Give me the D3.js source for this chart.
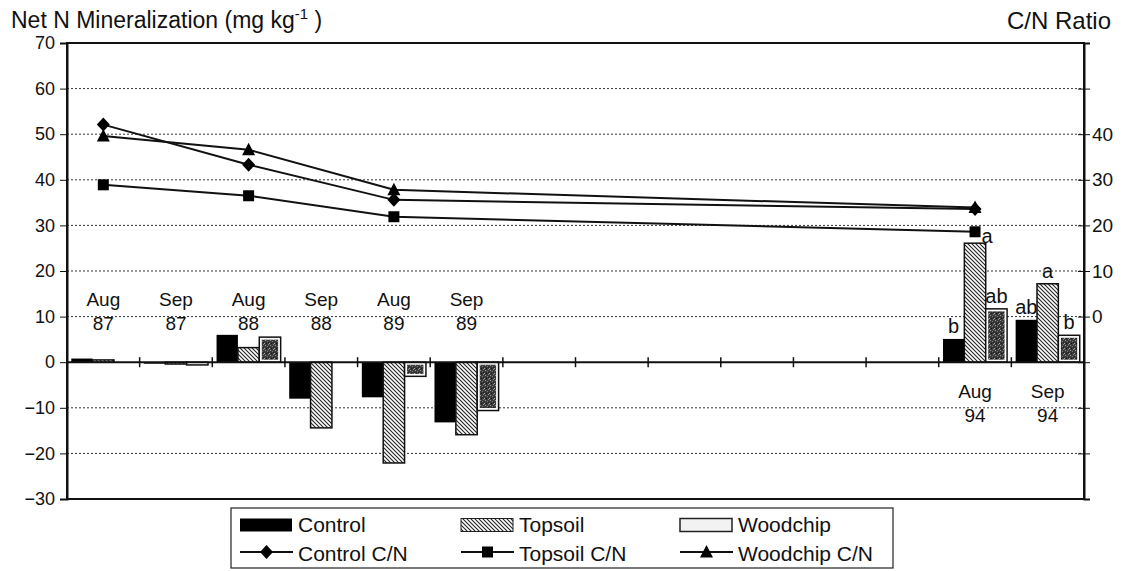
<!DOCTYPE html>
<html><head><meta charset="utf-8">
<script src="https://cdn.jsdelivr.net/npm/d3@7"></script>
<style>
body{margin:0;background:#fff;}
text{font-family:"Liberation Sans",Arial,sans-serif;fill:#111;}
</style></head>
<body><svg id="c" width="1124" height="571"></svg>
<script>
// ---- data ----
const categories = ["Aug 87","Sep 87","Aug 88","Sep 88","Aug 89","Sep 89","","","","","","","Aug 94","Sep 94"];
const seriesNames = ["Control","Topsoil","Woodchip"];
const controlN  = [0.8,-0.3, 6.0, -8.0, -7.7,-13.2, null,null,null,null,null,null, 5.1, 9.3];
const topsoilN  = [0.5,-0.4, 3.2,-14.4,-22.1,-15.9, null,null,null,null,null,null,26.1,17.2];
const woodchipN = [0.0,-0.6, 5.5,  0.0, -3.1,-10.6, null,null,null,null,null,null,11.7, 5.9];
const cnCategories = ["Aug 87","Aug 88","Aug 89","Aug 94"];
const controlCN  = [42.1,33.3,25.6,23.6];
const topsoilCN  = [28.9,26.5,21.9,18.6];
const woodchipCN = [39.6,36.6,27.8,23.9];
const sigCategories = ["Aug 94","Sep 94"];
const sigLetters = [["b","a","ab"],["ab","a","b"]];
const leftTicks = [-30,-20,-10,0,10,20,30,40,50,60,70];
const rightTicks = [-40,-30,-20,-10,0,10,20,30,40,50];
const rightLabeled = [0,10,20,30,40];

// ---- layout ----
const svg = d3.select("#c");
const L = 67, R = 1084, T = 43, B = 499;
const x = d3.scaleBand().domain(d3.range(categories.length)).range([L,R]).padding(0);
const xs = d3.scaleBand().domain(seriesNames).range([0,x.bandwidth()]).paddingOuter(0.2).paddingInner(0);
const y = d3.scaleLinear().domain([-30,70]).range([B,T]);
const y2 = d3.scaleLinear().domain([-40,60]).range([B,T]);

// patterns
const defs = svg.append("defs");
const hatch = defs.append("pattern").attr("id","hatch").attr("patternUnits","userSpaceOnUse")
  .attr("width",4).attr("height",4);
hatch.append("rect").attr("width",4).attr("height",4).attr("fill","#fff");
hatch.append("path").attr("d","M-1,-1 L5,5 M-1,3 L1,5 M3,-1 L5,1").attr("stroke","#222").attr("stroke-width",1.1);
const stip = defs.append("pattern").attr("id","stip").attr("patternUnits","userSpaceOnUse")
  .attr("width",5).attr("height",5);
stip.append("rect").attr("width",5).attr("height",5).attr("fill","#3a3a3a");
[[0,0,"#999"],[2,1,"#777"],[4,3,"#aaa"],[1,3,"#111"],[3,4,"#888"],[3,2,"#222"]].forEach(p=>
  stip.append("rect").attr("x",p[0]).attr("y",p[1]).attr("width",1).attr("height",1).attr("fill",p[2]));

// gridlines (dotted)
svg.append("g").selectAll("line").data([-20,-10,10,20,30,40,50,60]).join("line")
  .attr("x1",L).attr("x2",R).attr("y1",d=>y(d)).attr("y2",d=>y(d))
  .attr("stroke","#333").attr("stroke-width",1).attr("stroke-dasharray","2,2");

// frame
svg.append("rect").attr("x",L).attr("y",T).attr("width",R-L).attr("height",B-T)
  .attr("fill","none").attr("stroke","#111").attr("stroke-width",2);

// left axis
const ly = svg.append("g").attr("transform",`translate(${L},0)`)
  .call(d3.axisLeft(y).tickValues(leftTicks).tickSize(7).tickPadding(5));
ly.select(".domain").attr("stroke","#111").attr("stroke-width",2);
ly.selectAll(".tick line").attr("stroke","#111");
ly.selectAll("text").style("font-size","18px").attr("fill","#111");

// right axis
const ry = svg.append("g").attr("transform",`translate(${R},0)`)
  .call(d3.axisRight(y2).tickValues(rightTicks).tickSize(6).tickPadding(2)
    .tickFormat(d=>rightLabeled.includes(d)?d:""));
ry.select(".domain").attr("stroke","#111").attr("stroke-width",2);
ry.selectAll(".tick line").attr("stroke","#111").attr("x1",-6);
ry.selectAll("text").style("font-size","19px").attr("fill","#111");

// bars
const seriesVals = [controlN, topsoilN, woodchipN];
const gBars = svg.append("g");
seriesNames.forEach((s,si)=>{
  const vals = seriesVals[si];
  vals.forEach((v,i)=>{
    if(v===null) return;
    const bx = x(i)+xs(s), bw = xs.bandwidth();
    const y0 = y(Math.max(0,v)), h = Math.abs(y(v)-y(0));
    if(si===0){
      gBars.append("rect").attr("x",bx).attr("y",y0).attr("width",bw).attr("height",Math.max(h,1.5)).attr("fill","#000");
    } else if(si===1){
      gBars.append("rect").attr("x",bx).attr("y",y0).attr("width",bw).attr("height",h)
        .attr("fill","url(#hatch)").attr("stroke","#111").attr("stroke-width",1.5);
    } else {
      if(h<=0) return;
      gBars.append("rect").attr("x",bx).attr("y",y0).attr("width",bw).attr("height",h)
        .attr("fill","#fff").attr("stroke","#111").attr("stroke-width",1.5);
      if(h>5) gBars.append("rect").attr("x",bx+2.5).attr("y",y0+2.5).attr("width",bw-5).attr("height",h-5)
        .attr("fill","url(#stip)");
    }
  });
});

// zero axis line with category ticks
svg.append("line").attr("x1",L).attr("x2",R).attr("y1",y(0)).attr("y2",y(0)).attr("stroke","#111").attr("stroke-width",2);
svg.append("g").selectAll("line").data(d3.range(1,categories.length)).join("line")
  .attr("x1",d=>x(d)).attr("x2",d=>x(d)).attr("y1",y(0)-5).attr("y2",y(0)+5).attr("stroke","#111").attr("stroke-width",1.5);

// category labels
categories.forEach((c,i)=>{
  if(!c) return;
  const [m,yr] = c.split(" ");
  const cx = x(i)+x.bandwidth()/2;
  const above = i<6;
  const b1 = above ? y(0)-56 : y(0)+36;
  const t = svg.append("text").attr("text-anchor","middle").style("font-size","19px");
  t.append("tspan").attr("x",cx).attr("y",b1).text(m);
  t.append("tspan").attr("x",cx).attr("y",b1+24).text(yr);
});

// significance letters
sigCategories.forEach((c,ci)=>{
  const i = categories.indexOf(c);
  seriesNames.forEach((s,si)=>{
    const v = seriesVals[si][i];
    let cx = x(i)+xs(s)+xs.bandwidth()/2;
    let by = y(Math.max(0,v))-6;
    if(ci===0 && si===1){ cx += 12; by += 6; }
    svg.append("text").attr("x",cx).attr("y",by).attr("text-anchor","middle")
      .style("font-size","20px").text(sigLetters[ci][si]);
  });
});

// C/N lines
const cnSeries = [controlCN, topsoilCN, woodchipCN];
const markerPath = [
  "M0,-7 L6.5,0 L0,7 L-6.5,0 Z",
  "M-5.5,-5.5 L5.5,-5.5 L5.5,5.5 L-5.5,5.5 Z",
  "M0,-7 L6.5,5.5 L-6.5,5.5 Z"
];
const line = d3.line().x(d=>d[0]).y(d=>d[1]);
cnSeries.forEach((vals,si)=>{
  const pts = vals.map((v,k)=>[x(categories.indexOf(cnCategories[k]))+x.bandwidth()/2, y2(v)]);
  svg.append("path").attr("d",line(pts)).attr("fill","none").attr("stroke","#111").attr("stroke-width",2);
  svg.append("g").selectAll("path").data(pts).join("path")
    .attr("transform",d=>`translate(${d[0]},${d[1]})`)
    .attr("d",markerPath[si]).attr("fill","#000");
});

// titles
const tl = svg.append("text").attr("x",11).attr("y",27.5).style("font-size","23px");
tl.append("tspan").text("Net N Mineralization (mg kg");
tl.append("tspan").attr("dy",-9).style("font-size","15px").text("-1");
tl.append("tspan").attr("dy",9).text(" )");
svg.append("text").attr("x",1111).attr("y",28.5).attr("text-anchor","end").style("font-size","24px").text("C/N Ratio");

// legend
const lg = svg.append("g");
lg.append("rect").attr("x",231).attr("y",508).attr("width",662).attr("height",60)
  .attr("fill","#fff").attr("stroke","#222").attr("stroke-width",1.2);
const colX = [240,461,680];
const row1 = 525, row2 = 552;
seriesNames.forEach((s,si)=>{
  const sx = colX[si];
  const sw = lg.append("rect").attr("x",sx).attr("y",row1-6.5).attr("width",52).attr("height",13);
  if(si===0) sw.attr("fill","#000");
  else if(si===1) sw.attr("fill","url(#hatch)").attr("stroke","#222").attr("stroke-width",1);
  else sw.attr("fill","#f2f2f2").attr("stroke","#222").attr("stroke-width",1.5);
  lg.append("text").attr("x",sx+58).attr("y",row1+7).style("font-size","21px").text(s);
  lg.append("line").attr("x1",sx).attr("x2",sx+53).attr("y1",row2).attr("y2",row2).attr("stroke","#111").attr("stroke-width",2);
  lg.append("path").attr("transform",`translate(${sx+26.5},${row2})`)
    .attr("d",markerPath[si]).attr("fill","#000");
  lg.append("text").attr("x",sx+58).attr("y",row2+9).style("font-size","21px").text(s+" C/N");
});
</script></body></html>
